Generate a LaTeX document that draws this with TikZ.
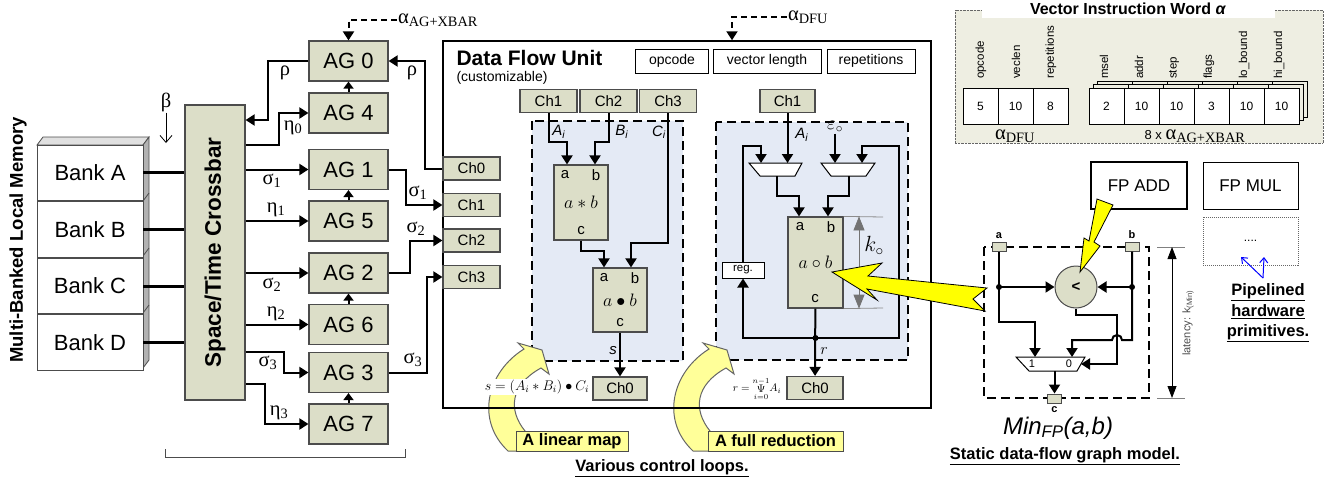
\RequirePackage{fix-cm}
\documentclass[tikz,border=0pt]{standalone}
\usepackage[no-math]{fontspec}
\setmainfont{Liberation Sans}
\newfontfamily\grk{Liberation Serif}
\usepackage{graphicx}
\usetikzlibrary{arrows.meta, positioning, shapes.geometric, calc}

\definecolor{boxfill}{RGB}{220,222,200}
\definecolor{regionfill}{RGB}{228,234,245}
\definecolor{wordfill}{RGB}{238,238,226}
\definecolor{loopyellow}{RGB}{255,255,153}
\definecolor{boltyellow}{RGB}{255,255,0}

\newcommand\fsz[1]{\fontsize{#1}{#1}\selectfont}

\tikzset{
  box/.style={draw=black!70, fill=boxfill, line width=1.2pt, inner sep=0pt},
  bank/.style={draw=black!70, fill=white, line width=0.8pt, minimum width=106, minimum height=55.75, inner sep=0pt, font=\fsz{22}},
  agbox/.style={box, minimum width=79, minimum height=40, font=\fsz{22}},
  chbox/.style={box, minimum width=56, minimum height=23, font=\fsz{15}},
  opbox/.style={box, minimum width=54, font=\fsz{18}},
  pinlbl/.style={font=\fsz{15}, inner sep=0pt},
  field/.style={draw, fill=white, line width=1pt, minimum height=24, inner sep=0pt, font=\fsz{14}},
  cell/.style={draw, fill=white, line width=0.8pt, minimum width=35, minimum height=36, inner sep=0pt, font=\fsz{12}},
  wire/.style={line width=2pt},
  arr/.style={wire, -{Triangle[length=9pt, width=11pt]}},
  smallarr/.style={wire, -{Triangle[length=7pt, width=10pt]}},
  region/.style={fill=regionfill, draw, line width=1.8pt, dash pattern=on 9pt off 5pt},
  grklbl/.style={font=\grk\fsz{20.5}, inner sep=1pt},
  caption/.style={font=\bfseries\fsz{16.5}, inner sep=1pt},
  bolt/.style={fill=boltyellow, draw=black, line width=0.8pt},
  loopbody/.style={fill=loopyellow, draw=black!60, line width=1pt},
  looplbl/.style={draw=black!70, fill=loopyellow, line width=1pt, minimum height=20, inner sep=0pt, font=\bfseries\fsz{16.5}},
  muxshape/.style={draw, fill=white, line width=1pt},
  port/.style={draw=black!70, fill=boxfill, line width=1pt, minimum width=14, minimum height=9, inner sep=0pt},
  dim/.style={line width=0.8pt, {Triangle[length=12pt, width=9pt]}-{Triangle[length=12pt, width=9pt]}},
}

\begin{document}
\begin{tikzpicture}[x=1pt, y=-1pt]
\useasboundingbox (0,0) rectangle (1335,482);

% memory banks
\node[rotate=90, font=\bfseries\fsz{18.5}] (memlabel) at (18,240) {Multi-Banked Local Memory};
\filldraw[fill=black!12, draw=black!70, line width=0.8pt] (37,145) -- (43,137) -- (149,137) -- (143,145) -- cycle;
\filldraw[fill=black!30, draw=black!70, line width=0.8pt] (143,145) -- (149,137) -- (149,360) -- (143,368) -- cycle;
\foreach \y in {201,256,313} \draw[black!70, line width=0.8pt] (143,\y) -- (149,\y-8);
\node[bank] (bankA) at (90,172.9) {Bank A};
\node[bank, below=0pt of bankA] (bankB) {Bank B};
\node[bank, below=0pt of bankB] (bankC) {Bank C};
\node[bank, below=0pt of bankC] (bankD) {Bank D};

% crossbar
\node[box, minimum width=60, minimum height=295, font=\bfseries\fsz{22.5}] (xbar) at (215,252.5) {\rotatebox{90}{Space/Time Crossbar}};
\foreach \b in {A,B,C,D} \draw[line width=3pt] (bank\b.east) -- (bank\b.east -| xbar.west);
\node[grklbl] (beta) at (166,102) {β};
\coordinate (betaend) at (166,143);
\draw[line width=0.8pt, -{Straight Barb[length=7pt, width=12pt]}] (beta) -- (betaend);

% address generators
\node[agbox] (ag0) at (348.5,61) {AG 0};
\node[agbox] (ag4) at (348.5,113) {AG 4};
\node[agbox] (ag1) at (348.5,169.5) {AG 1};
\node[agbox] (ag5) at (348.5,221) {AG 5};
\node[agbox] (ag2) at (348.5,273) {AG 2};
\node[agbox] (ag6) at (348.5,324.5) {AG 6};
\node[agbox] (ag3) at (348.5,372.5) {AG 3};
\node[agbox] (ag7) at (348.5,424) {AG 7};
\foreach \a/\b in {4/0,5/1,6/2,7/3} \draw[smallarr] (ag\a) -- (ag\b);

\draw[arr] (ag0.west) -| (268,120) -- (xbar.east |- 0,120);
\draw[arr] (xbar.east |- 0,145) -| (279,113) -- (ag4.west);
\foreach \g in {1,5,2,6} \draw[arr] (xbar.east |- ag\g) -- (ag\g);
\draw[arr] (xbar.east |- 0,352) -| (284,372.5) -- (ag3.west);
\draw[arr] (xbar.east |- 0,384) -| (265,424) -- (ag7.west);
\node[grklbl] (rhoL) at (285,73) {ρ};
\node[grklbl] (eta0) at (293,128) {η\textsubscript{0}};
\node[grklbl] (sig1L) at (272,181) {σ\textsubscript{1}};
\node[grklbl] (eta1) at (276,210) {η\textsubscript{1}};
\node[grklbl] (sig2L) at (272,285) {σ\textsubscript{2}};
\node[grklbl] (eta2) at (276,314) {η\textsubscript{2}};
\node[grklbl] (sig3L) at (268,363) {σ\textsubscript{3}};
\node[grklbl] (eta3) at (279,413) {η\textsubscript{3}};
\draw[black!70, line width=1pt] (165,449) -- (165,457) -- (405,457) -- (405,449);

\node[grklbl] (alphaag) at (438,20) {α\textsubscript{AG+XBAR}};
\draw[arr, dash pattern=on 6pt off 4pt] (alphaag.west) -| (ag0.north);

% dashed loop regions
\draw[region] (532,121) rectangle (683,361);
\draw[region] (716,122) rectangle (908,360);

% curved control loop arrows
\foreach \dx in {0,185}
  \filldraw[loopbody, xshift=\dx] (525,431) .. controls (508,410) and (510,385) .. (541,368) -- (549,374) -- (542,350) -- (518,343) -- (524,349) .. controls (487,372) and (475,420) .. (508,451) -- (530,451) -- cycle;

% data flow unit
\node[draw, line width=1.5pt, minimum width=488, minimum height=367, inner sep=0pt] (dfu) at (687,224.5) {};
\node[anchor=west, font=\bfseries\fsz{21}] (dfutitle) at (453,58) {Data Flow Unit};
\node[anchor=west, font=\fsz{14}] (dfusub) at (453,78) {(customizable)};
\node[field, minimum width=73] (fopcode) at (672,61) {opcode};
\node[field, minimum width=108] (fveclen) at (767,61) {vector length};
\node[field, minimum width=88] (freps) at (871,61) {repetitions};
\node[grklbl] (alphadfu) at (808,17) {α\textsubscript{DFU}};
\draw[arr, dash pattern=on 6pt off 4pt] (alphadfu.west) -| (dfu.north -| 732,0);

% channels into the unit
\node[chbox, minimum width=57] (ch0) at (471.5,168.5) {Ch0};
\node[chbox, minimum width=57] (ch1) at (471.5,205) {Ch1};
\node[chbox, minimum width=57] (ch2) at (471.5,240.5) {Ch2};
\node[chbox, minimum width=57] (ch3) at (471.5,277) {Ch3};
\draw[arr] (ch0.west) -| (425,61) -- (ag0.east);
\draw[arr] (ag1.east) -| (406,205) -- (ch1.west);
\draw[arr] (ag2.east) -| (410,240.5) -- (ch2.west);
\draw[arr] (ag3.east) -| (427,277) -- (ch3.west);
\node[grklbl] (rhoR) at (412,73) {ρ};
\node[grklbl] (sig1R) at (418,193) {σ\textsubscript{1}};
\node[grklbl] (sig2R) at (416,229) {σ\textsubscript{2}};
\node[grklbl] (sig3R) at (413,360) {σ\textsubscript{3}};

% linear map
\node[chbox, minimum width=57] (lch1) at (548.5,101) {Ch1};
\node[chbox, minimum width=57] (lch2) at (608.5,101) {Ch2};
\node[chbox, minimum width=57] (lch3) at (668,101) {Ch3};
\node[opbox, minimum height=75] (mul) at (581,202.5) {$a*b$};
\node[pinlbl] (mula) at (565,175) {a};
\node[pinlbl] (mulb) at (596,175) {b};
\node[pinlbl] (mulc) at (581,231) {c};
\node[opbox, minimum height=64] (dot) at (620,300) {$a\bullet b$};
\node[pinlbl] (dota) at (604,278) {a};
\node[pinlbl] (dotb) at (635,278) {b};
\node[pinlbl] (dotc) at (620,323) {c};
\node[chbox, minimum width=54] (lch0) at (620,388.5) {Ch0};
\draw[arr] (lch1) |- (567,142) -- (mul.north -| 567,0);
\draw[arr] (lch2) |- (595,142) -- (mul.north -| 595,0);
\draw[arr] (lch3) |- (631,243) -- (dot.north -| 631,0);
\draw[arr] (mul) |- (604,251) -- (dot.north -| 604,0);
\draw[arr] (dot) -- (lch0);
\node[pinlbl] (lai) at (559,132) {\textit{A}\textsubscript{\textit{i}}};
\node[pinlbl] (lbi) at (622,132) {\textit{B}\textsubscript{\textit{i}}};
\node[pinlbl] (lci) at (659,132) {\textit{C}\textsubscript{\textit{i}}};
\node[pinlbl] (ls) at (613,351) {\textit{s}};
\node[fill=white, inner sep=1pt, font=\fsz{14}] (sform) at (537,387) {$s=(A_i*B_i)\bullet C_i$};

% full reduction
\node[chbox, minimum width=55] (rch1) at (787.5,101) {Ch1};
\filldraw[muxshape] (749,163) -- (802,163) -- (795,176) -- (760,176) -- cycle;
\filldraw[muxshape] (821,163) -- (875,163) -- (866,176) -- (831,176) -- cycle;
\coordinate (mux1top) at (775.5,163);
\coordinate (mux1bot) at (777,176);
\coordinate (mux2top) at (848,163);
\coordinate (mux2bot) at (849,176);
\node[opbox, minimum width=55, minimum height=91] (circ) at (815.5,262.5) {$a\circ b$};
\node[pinlbl] (circa) at (800,227) {a};
\node[pinlbl] (circb) at (831,227) {b};
\node[pinlbl] (circc) at (815,299) {c};
\node[chbox, minimum width=56] (rch0) at (815,388) {Ch0};
\node[draw, fill=white, line width=1pt, minimum width=42, minimum height=16, inner sep=0pt, font=\fsz{11.5}] (reg) at (743,270) {reg.};
\node[font=\fsz{19}, inner sep=1pt] (eps) at (835,127) {$\varepsilon_{\circ}$};
\coordinate (jr) at (815.5,338);
\draw[arr] (rch1) -- (mux1top -| rch1);
\draw[arr] (eps) -- (mux2top -| eps);
\draw[arr] (mux1bot) |- (799,196) -- (circ.north -| 799,0);
\draw[arr] (mux2bot) |- (828,196) -- (circ.north -| 828,0);
\draw[arr] (circ) -- (rch0);
\draw[arr] (jr) -| (reg);
\draw[arr] (reg) |- (761,146) -- (mux1top -| 761,0);
\draw[arr] (jr) -| (899,146) -| (mux2top -| 862,0);
\fill (jr) circle (3pt);
\node[pinlbl] (lai2) at (802,135) {\textit{A}\textsubscript{\textit{i}}};
\node[font=\fsz{16}, inner sep=0pt] (lr) at (824,351) {$r$};
\draw[black!45, line width=0.8pt] (circ.north east) -- (883,217);
\draw[black!45, line width=0.8pt] (circ.south east) -- (883,308);
\draw[line width=0.8pt, black!55, {Triangle[length=14pt, width=11pt]}-{Triangle[length=14pt, width=11pt]}] (circ.north east -| 859,0) -- (circ.south east -| 859,0);
\node[font=\fsz{22}, inner sep=0pt] (kcirc) at (874,246) {$k_{\circ}$};
\node[font=\fsz{11}, inner sep=0pt] (rform) at (757,389) {$r=\mathop{\Psi}\limits_{i=0}^{n-1}\!A_i$};

% loop labels
\node[looplbl, minimum width=112] (linmap) at (572,441) {A linear map};
\node[looplbl, minimum width=135] (fullred) at (775.5,441) {A full reduction};
\node[caption] (loopcap) at (662,468) {\underline{Various control loops.}};

% vector instruction word
\node[draw=black!60, densely dotted, fill=wordfill, minimum width=368, minimum height=133, inner sep=0pt] (viw) at (1139,76.5) {};
\node[fill=white, font=\bfseries\fsz{16}, minimum width=293, minimum height=18, inner sep=0pt] (viwtitle) at (1128,9) {Vector Instruction Word \textit{α}};
\foreach \v [count=\i] in {5,10,8}
  \node[cell] (dfucell\i) at (945.5+35*\i,106) {\v};
\foreach \sx/\sy in {8/7,4/4}
  \foreach \i in {1,...,6}
    \node[cell, fill=wordfill] (back\sx-\i) at (1071.5+35*\i+\sx,106-\sy) {};
\foreach \v [count=\i] in {2,10,10,3,10,10}
  \node[cell] (agcell\i) at (1071.5+35*\i,106) {\v};
\foreach \t/\x [count=\k] in {opcode/981, veclen/1016, repetitions/1051, msel/1104, addr/1139, step/1174, flags/1209, lo\_bound/1244, hi\_bound/1279}
  \node[rotate=90, anchor=west, font=\fsz{11.5}, inner sep=0pt] (fname\k) at (\x,79) {\t};
\node[grklbl] (wdfu) at (1015,136) {α\textsubscript{DFU}};
\node[inner sep=1pt] (wag) at (1195,136) {\fsz{13}8 x {\grk\fsz{20.5}α\textsubscript{AG+XBAR}}};

% hardware primitives
\node[draw, line width=1.6pt, minimum width=96, minimum height=47, font=\fsz{17}] (fpadd) at (1139,185.5) {FP ADD};
\node[draw, line width=1pt, minimum width=95, minimum height=47, font=\fsz{17}] (fpmul) at (1250.5,185.5) {FP MUL};
\node[draw=black!60, densely dotted, line width=1pt, minimum width=95, minimum height=48, font=\fsz{12}] (fpmore) at (1250.5,241) {....};
\coordinate (blueroot) at (1263,278);
\draw[blue, line width=1pt, -{Straight Barb[length=5pt, width=8pt]}] (blueroot) -- (1241,257);
\draw[blue, line width=1pt, -{Straight Barb[length=5pt, width=8pt]}] (blueroot) -- (1264,257);
\node[align=center, font=\bfseries\fontsize{16.5}{20.5}\selectfont] (pipecap) at (1268,313) {\underline{Pipelined}\\\underline{hardware}\\\underline{primitives.}};

% min graph
\draw[line width=1.8pt, dash pattern=on 9pt off 5pt] (984,247) rectangle (1149,398);
\node[port] (pa) at (999,246.5) {};
\node[port] (pb) at (1132,246.5) {};
\node[port] (pc) at (1054.5,398.5) {};
\node[font=\bfseries\fsz{11}, inner sep=0pt, above=3pt of pa] (la) {a};
\node[font=\bfseries\fsz{11}, inner sep=0pt, above=3pt of pb] (lb) {b};
\node[font=\bfseries\fsz{11}, inner sep=0pt, below=3pt of pc] (lc) {c};
\node[circle, draw=black!70, fill=boxfill, line width=1pt, minimum size=42, font=\bfseries\fsz{15}] (cmp) at (1076,287) {<};
\filldraw[muxshape] (1016,357) -- (1085,357) -- (1077,371) -- (1029,371) -- cycle;
\coordinate (mmuxbot) at (1054.5,371);
\coordinate (mmuxtop) at (1050.5,357);
\coordinate (mmuxright) at (1081,364);
\node[font=\fsz{11}, inner sep=0pt] (m1) at (1032,364) {1};
\node[font=\fsz{11}, inner sep=0pt] (m0) at (1069,364) {0};
\coordinate (ja) at (999,287);
\coordinate (jb) at (1132,287);
\draw[arr] (pa) |- (1035,322) -- (mmuxtop -| 1035,0);
\draw[arr] (pb) |- (1122,340) arc[start angle=0, end angle=180, radius=5pt] -| (mmuxtop -| 1072,0);
\draw[arr] (ja) -- (cmp);
\draw[arr] (jb) -- (cmp);
\draw[arr] (cmp) |- (1117,315) |- (mmuxright);
\draw[arr] (mmuxbot) -- (pc);
\fill (ja) circle (3pt);
\fill (jb) circle (3pt);
\draw[black!50, line width=0.8pt] (1157,247) -- (1185,247);
\draw[black!50, line width=0.8pt] (1157,398) -- (1185,398);
\coordinate (lattop) at (1172,247);
\coordinate (latbot) at (1172,398);
\draw[dim] (lattop) -- (latbot);
\node[rotate=90, font=\fsz{11}, text=black!70, inner sep=0pt] (latency) at (1188,323) {latency: k\textsubscript{(Min)}};
\node[font=\itshape\fsz{24}, inner sep=0pt] (minfp) at (1058,428) {Min\textsubscript{FP}(a,b)};
\node[caption] (sdfcap) at (1065,456) {\underline{Static data-flow graph model.}};

% lightning arrows
\filldraw[bolt] (832,272) -- (882,263) -- (868,276) -- (987,288) -- (973,299) -- (985,311) -- (867,289) -- (877,300) -- cycle;
\filldraw[bolt] (1097,199) -- (1113,205) -- (1094,242) -- (1100,246) -- (1080,272) -- (1084,238) -- (1089,241) -- cycle;
\end{tikzpicture}
\end{document}
